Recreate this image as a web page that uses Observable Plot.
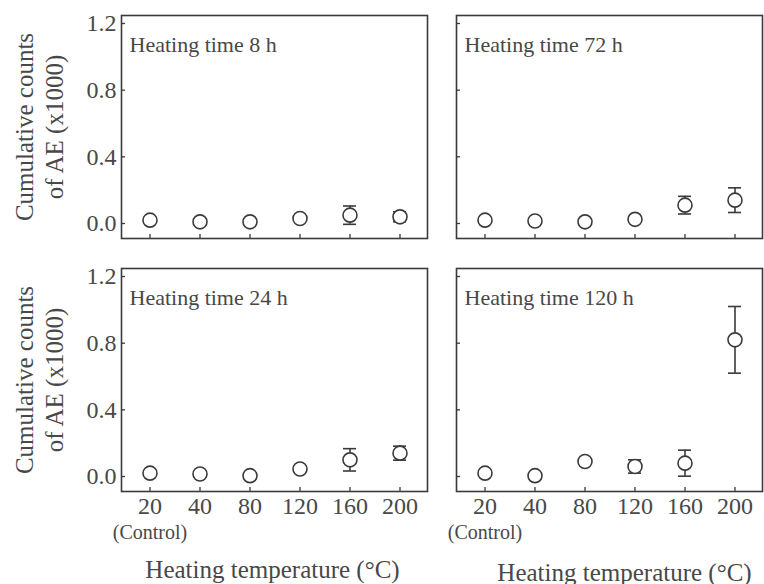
<!DOCTYPE html>
<html><head><meta charset="utf-8">
<script src="https://cdn.jsdelivr.net/npm/d3@7"></script>
<script src="https://cdn.jsdelivr.net/npm/@observablehq/plot@0.6"></script>
<style>body{margin:0;background:#fff}</style>
</head><body><div id="chart"></div>
<script>
const temps = ["20", "40", "80", "120", "160", "200"];
const panelTimes = ["8 h", "72 h", "24 h", "120 h"];
const panelCols = ["L", "R", "L", "R"];
const panelRows = ["T", "T", "B", "B"];
const mean8 = [0.02, 0.01, 0.01, 0.03, 0.05, 0.04];
const err8 = [0, 0, 0, 0, 0.055, 0.03];
const mean72 = [0.02, 0.015, 0.01, 0.025, 0.11, 0.14];
const err72 = [0, 0, 0, 0, 0.053, 0.074];
const mean24 = [0.02, 0.015, 0.005, 0.045, 0.10, 0.14];
const err24 = [0, 0, 0, 0, 0.067, 0.042];
const mean120 = [0.02, 0.005, 0.09, 0.06, 0.08, 0.82];
const err120 = [0, 0, 0, 0.04, 0.078, 0.2];
const yTicks = [0, 0.4, 0.8, 1.2];
const controlLabel = "(Control)";
const xTitle = "Heating temperature (\u00B0C)";
const yTitle = "Cumulative counts\nof AE (x1000)";

const means = [mean8, mean72, mean24, mean120];
const errs = [err8, err72, err24, err120];
const data = panelTimes.flatMap((t, i) => temps.map((temp, j) => ({
  time: t, col: panelCols[i], row: panelRows[i], temp, mean: means[i][j], err: errs[i][j]
})));
const bars = data.filter(d => d.err > 0);
const panels = panelTimes.map((t, i) => ({label: "Heating time " + t, col: panelCols[i], row: panelRows[i]}));
const leftPanels = panels.filter(p => p.col === "L");
const bottomPanels = panels.filter(p => p.row === "B");
const bottomLeft = bottomPanels.filter(p => p.col === "L");
const bottomRight = bottomPanels.filter(p => p.col === "R");

const ink = "#3a3a3a";
const chart = Plot.plot({
  width: 764, height: 584,
  marginLeft: 120, marginRight: 1.5, marginTop: 15, marginBottom: 92,
  style: {fontFamily: "'Liberation Serif','Times New Roman',serif", fontSize: "24px", color: "#484848", background: "#fff"},
  fx: {domain: ["L", "R"], paddingInner: 0.0864, paddingOuter: 0, axis: null, label: null},
  fy: {domain: ["T", "B"], paddingInner: 0.118, paddingOuter: 0, axis: null, label: null},
  x: {type: "band", domain: temps, paddingInner: 0.5, paddingOuter: 0.28, label: null},
  y: {domain: [-0.09, 1.248], label: null},
  marks: [
    Plot.frame({stroke: ink, strokeWidth: 1.6}),
    Plot.axisX({tickSize: -4, fill: "none", facetAnchor: null, label: null, stroke: ink, strokeWidth: 1.3}),
    Plot.axisY(yTicks, {tickSize: -4, fill: "none", facetAnchor: null, label: null, stroke: ink, strokeWidth: 1.3}),
    Plot.axisX({tickSize: 0, tickPadding: 5, label: null}),
    Plot.axisY(yTicks, {tickSize: 0, tickPadding: 5, tickFormat: d3.format(".1f"), label: null}),
    Plot.ruleX(bars, {fx: "col", fy: "row", x: "temp", y1: d => d.mean - d.err, y2: d => d.mean + d.err, stroke: ink, strokeWidth: 1.6}),
    Plot.tickY(bars, {fx: "col", fy: "row", x: "temp", y: d => d.mean + d.err, insetLeft: 6, insetRight: 6, stroke: ink, strokeWidth: 1.6}),
    Plot.tickY(bars, {fx: "col", fy: "row", x: "temp", y: d => d.mean - d.err, insetLeft: 6, insetRight: 6, stroke: ink, strokeWidth: 1.6}),
    Plot.dot(data, {fx: "col", fy: "row", x: "temp", y: "mean", r: 7, fill: "white", stroke: ink, strokeWidth: 1.6}),
    Plot.text(panels, {fx: "col", fy: "row", text: "label", frameAnchor: "top-left", dx: 8, dy: 21, lineAnchor: "top", textAnchor: "start", fontSize: 22}),
    Plot.text(leftPanels, {fx: "col", fy: "row", text: () => yTitle, frameAnchor: "left", rotate: -90, dx: -83, lineHeight: 1.2, lineAnchor: "middle", textAnchor: "middle", fontSize: 25}),
    Plot.text(bottomPanels, {fx: "col", fy: "row", x: () => temps[0], text: () => controlLabel, frameAnchor: "bottom", dy: 41, lineAnchor: "middle", fontSize: 20}),
    Plot.text(bottomLeft, {fx: "col", fy: "row", text: () => xTitle, frameAnchor: "bottom", dx: -2, dy: 78, lineAnchor: "middle", fontSize: 25}),
    Plot.text(bottomRight, {fx: "col", fy: "row", text: () => xTitle, frameAnchor: "bottom", dx: 15, dy: 81, lineAnchor: "middle", fontSize: 25})
  ]
});
document.getElementById("chart").appendChild(chart);
</script>
</body></html>
